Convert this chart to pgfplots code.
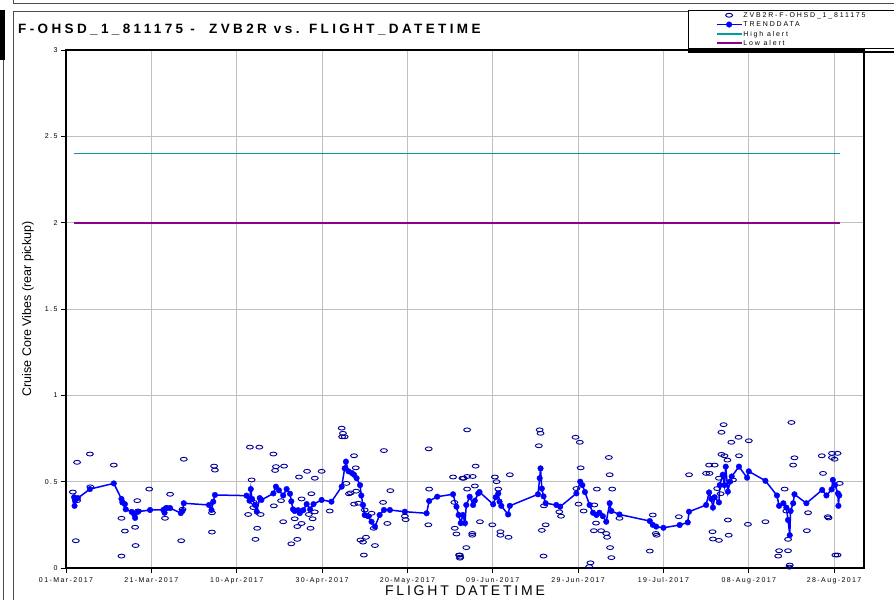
\documentclass[border=0pt]{standalone}
\usepackage{pgfplots}
\pgfplotsset{compat=1.18}
\usepackage{fontspec}
\setmainfont{Liberation Sans}
\newfontfamily\spacedfont[LetterSpace=20]{Liberation Sans}
\newfontfamily\legfont[LetterSpace=26]{Liberation Sans}
\newfontfamily\titlefont[LetterSpace=25]{Liberation Sans}
\definecolor{ptnavy}{rgb}{0,0,0.6}
\definecolor{trendblue}{rgb}{0,0,1}
\definecolor{alertteal}{rgb}{0,0.62,0.62}
\definecolor{lopurple}{rgb}{0.55,0,0.55}
\definecolor{gridgray}{rgb}{0.75,0.75,0.75}
\pgfplotstableread{
d v
1.9 0.41
2.0 0.36
2.1 0.39
2.8 0.405
5.6 0.457
11.2 0.49
13.0 0.40
13.2 0.38
13.8 0.37
14.0 0.34
15.4 0.325
16.0 0.31
16.2 0.29
16.9 0.326
19.7 0.336
22.8 0.336
23.1 0.32
23.6 0.347
24.4 0.347
26.9 0.318
27.3 0.33
27.6 0.375
33.5 0.365
34.1 0.336
34.5 0.384
34.9 0.423
42.3 0.419
43.0 0.39
43.3 0.457
43.6 0.40
44.3 0.365
44.7 0.326
45.4 0.405
45.8 0.394
48.6 0.432
49.2 0.471
49.9 0.45
50.9 0.42
51.7 0.457
52.5 0.43
52.8 0.386
53.2 0.34
53.6 0.33
54.4 0.335
54.8 0.318
55.6 0.335
56.4 0.37
57.2 0.34
58.0 0.37
59.9 0.394
62.2 0.384
64.6 0.471
65.3 0.577
65.6 0.616
66.2 0.56
67.0 0.55
67.5 0.54
68.1 0.52
68.9 0.48
69.2 0.42
69.6 0.365
70.0 0.307
70.8 0.30
71.6 0.268
72.4 0.24
73.5 0.307
74.5 0.336
75.9 0.336
79.4 0.326
84.5 0.317
85.1 0.388
87.0 0.413
90.7 0.427
91.5 0.355
92.0 0.307
92.5 0.26
93.0 0.307
93.5 0.26
93.8 0.365
94.6 0.413
95.4 0.365
95.8 0.39
96.6 0.432
96.9 0.44
100.1 0.369
100.7 0.41
101.3 0.432
101.6 0.384
102.0 0.36
103.6 0.31
104.0 0.36
110.6 0.427
111.0 0.52
111.2 0.577
111.5 0.46
111.9 0.415
112.4 0.375
114.9 0.365
115.8 0.355
119.6 0.432
120.5 0.50
121.0 0.48
121.6 0.44
122.7 0.365
123.5 0.32
124.3 0.307
125.0 0.32
125.8 0.30
126.6 0.268
127.4 0.375
127.8 0.33
129.7 0.31
136.8 0.272
137.5 0.25
138.3 0.24
140.0 0.233
143.8 0.249
145.7 0.264
146.0 0.326
150.0 0.365
150.7 0.438
151.2 0.40
151.6 0.35
152.0 0.41
153.0 0.38
153.2 0.48
153.9 0.54
154.3 0.48
154.6 0.587
155.1 0.442
155.6 0.50
156.0 0.53
157.7 0.587
159.6 0.523
160.0 0.56
163.9 0.505
166.6 0.42
167.1 0.36
168.1 0.375
168.8 0.35
169.2 0.278
169.6 0.19
169.8 0.33
170.4 0.375
170.7 0.427
173.5 0.375
177.2 0.452
178.2 0.42
179.4 0.455
179.7 0.51
180.2 0.48
180.9 0.432
181.0 0.36
181.2 0.42
}\trend
\pgfplotstableread{
d v
2.6 0.612
5.6 0.66
11.2 0.596
1.6 0.44
2.6 0.39
2.3 0.158
5.7 0.47
13.0 0.288
13.8 0.214
13.0 0.069
16.7 0.39
16.9 0.33
16.2 0.236
16.3 0.13
19.5 0.457
24.4 0.427
23.2 0.288
23.6 0.35
27.3 0.34
27.0 0.158
27.6 0.63
34.7 0.59
34.9 0.567
34.2 0.32
34.2 0.208
43.1 0.70
45.3 0.70
43.5 0.51
42.7 0.31
43.9 0.35
44.8 0.23
44.4 0.166
45.6 0.31
44.0 0.38
48.6 0.66
49.2 0.587
49.0 0.565
51.1 0.59
54.6 0.527
56.5 0.56
58.3 0.52
59.9 0.56
48.7 0.36
50.4 0.39
50.9 0.268
52.8 0.14
54.2 0.166
54.2 0.24
53.6 0.285
55.2 0.258
55.2 0.40
57.5 0.43
56.9 0.31
57.3 0.23
57.8 0.285
58.3 0.325
61.8 0.33
64.6 0.81
64.9 0.78
65.3 0.76
64.7 0.76
67.5 0.65
67.9 0.58
65.7 0.49
66.3 0.43
66.7 0.435
68.0 0.445
67.5 0.37
68.5 0.375
70.0 0.336
71.6 0.317
70.8 0.30
72.1 0.23
69.0 0.162
69.6 0.15
70.3 0.178
72.4 0.13
69.8 0.075
74.5 0.68
76.0 0.448
74.3 0.38
75.3 0.258
79.4 0.30
79.6 0.28
85.0 0.69
85.1 0.457
84.9 0.25
90.7 0.527
92.9 0.52
91.1 0.23
91.5 0.197
92.1 0.075
92.4 0.063
91.0 0.38
94.0 0.80
96.0 0.59
93.2 0.52
94.0 0.53
95.3 0.53
94.0 0.457
95.8 0.475
97.0 0.268
95.2 0.20
95.2 0.19
93.8 0.118
92.3 0.075
92.3 0.057
99.9 0.25
100.5 0.527
100.9 0.50
101.3 0.457
104.0 0.54
101.8 0.21
101.8 0.19
103.7 0.178
111.0 0.80
111.2 0.78
110.8 0.708
112.0 0.36
112.4 0.25
111.5 0.218
111.9 0.069
115.6 0.325
116.0 0.30
119.4 0.757
120.4 0.728
120.6 0.58
119.6 0.46
120.1 0.37
121.3 0.33
124.4 0.457
123.8 0.365
124.2 0.26
123.7 0.216
125.4 0.216
126.6 0.20
126.8 0.178
122.9 0.03
122.6 0.008
127.2 0.64
127.4 0.54
128.0 0.457
127.5 0.118
127.8 0.06
129.7 0.288
137.5 0.307
138.2 0.20
138.4 0.19
136.8 0.098
143.6 0.297
146.0 0.54
154.1 0.83
153.6 0.786
155.9 0.728
157.6 0.757
160.0 0.737
153.6 0.658
154.3 0.65
155.0 0.625
157.7 0.65
150.7 0.596
152.0 0.596
150.0 0.548
150.8 0.548
153.0 0.52
156.3 0.51
152.6 0.46
153.4 0.43
155.1 0.278
151.5 0.21
151.6 0.168
153.0 0.16
155.3 0.19
159.8 0.253
163.9 0.268
168.4 0.457
168.8 0.33
169.2 0.166
170.0 0.843
170.7 0.638
170.4 0.596
167.1 0.10
166.9 0.069
169.2 0.10
169.6 0.017
169.5 0.005
173.9 0.32
173.6 0.216
177.1 0.65
177.4 0.548
178.5 0.297
178.7 0.29
179.5 0.664
180.8 0.664
179.5 0.64
180.1 0.63
181.3 0.49
180.3 0.075
180.8 0.075
}\scatterpts
\begin{document}
\begin{tikzpicture}
\useasboundingbox (0,0) rectangle (894pt,600pt);
\fill[white] (0,0) rectangle (894pt,600pt);
% frame lines
\draw[line width=0.8pt, black!70] (3pt,0) -- (3pt,590pt);
\fill[black] (0,540pt) rectangle (4.5pt,590pt);
\draw[line width=0.8pt, black!70] (13pt,600pt) -- (13pt,597pt) -- (894pt,597pt);
\draw[line width=0.8pt, black!70] (13pt,0) -- (13pt,589pt) -- (894pt,589pt);
\node[anchor=west, font=\fontsize{13.5}{15}\titlefont\bfseries, inner sep=0pt] at (18pt,570pt) {F-OHSD\_1\_811175 -\ \ ZVB2R vs. FLIGHT\_DATETIME};
\begin{axis}[
  at={(66pt,32pt)}, anchor=south west,
  scale only axis, width=798pt, height=518pt,
  xmin=0, xmax=187, ymin=0, ymax=3,
  xtick={0,20,40,60,80,100,120,140,160,180},
  xticklabels={01-Mar-2017,21-Mar-2017,10-Apr-2017,30-Apr-2017,20-May-2017,09-Jun-2017,29-Jun-2017,19-Jul-2017,08-Aug-2017,28-Aug-2017},
  ytick={0,0.5,1,1.5,2,2.5,3},
  yticklabels={0,0.5,1,1.5,2,2.5,3},
  grid=major,
  major grid style={gridgray, line width=0.8pt},
  axis line style={black, line width=1.4pt},
  tick align=outside, tick pos=left,
  major tick length=5pt,
  tick style={black, line width=0.8pt},
  x tick label style={font=\fontsize{7}{8}\spacedfont, yshift=-1pt},
  y tick label style={font=\fontsize{7}{8}\spacedfont},
  xlabel={FLIGHT DATETIME},
  xlabel style={font=\fontsize{14}{16}\spacedfont, at={(axis description cs:0.5,-0.0444)}, anchor=center},
  ylabel={Cruise Core Vibes (rear pickup)},
  ylabel style={font=\fontsize{12.5}{14}\selectfont, at={(axis description cs:-0.0476,0.5)}, anchor=center},
  legend cell align=left,
  legend style={at={(axis description cs:0.7794,1.0772)}, anchor=north west,
    draw=black, line width=0.6pt, fill=white,
    font=\fontsize{7}{8}\legfont, row sep=2.4pt, inner sep=1.5pt,
    nodes={inner sep=1pt, text depth=0pt}},
  legend image code/.code={\path (-26pt,0pt); \draw[mark repeat=2, mark phase=2, #1] plot coordinates {(0pt,0pt) (12.5pt,0pt) (25pt,0pt)};},
  clip=false,
]
\addplot[only marks, mark=o, color=ptnavy, mark size=3pt, mark options={xscale=1.15, yscale=0.65, line width=0.9pt}] table[x=d, y=v] {\scatterpts};
\addlegendentry{ZVB2R-F-OHSD\_1\_811175\rule{60pt}{0pt}}
\addplot[color=trendblue, line width=1.5pt, mark=*, mark size=2.8pt, mark options={fill=trendblue, line width=0.4pt}] table[x=d, y=v] {\trend};
\addlegendentry{TRENDDATA}
\addplot[color=alertteal, draw=alertteal, no marks, line width=1.7pt] coordinates {(1.9,2.4) (181.3,2.4)};
\addlegendentry{High alert}
\addplot[color=lopurple, draw=lopurple, no marks, line width=1.7pt] coordinates {(1.9,2.0) (181.3,2.0)};
\addlegendentry{Low alert}
\end{axis}
\draw[line width=1.6pt] (688pt,548pt) -- (894pt,548pt);
\end{tikzpicture}
\end{document}
